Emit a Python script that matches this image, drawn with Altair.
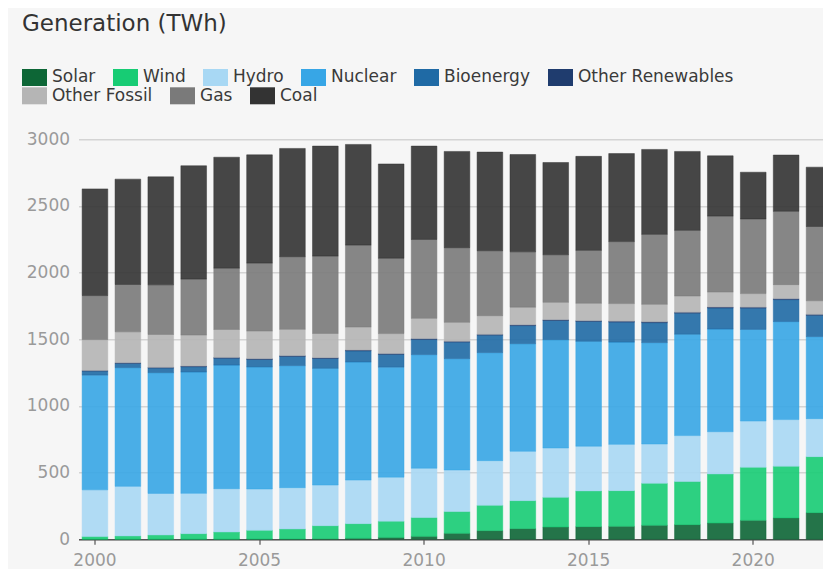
import altair as alt
import pandas as pd

years = list(range(2000, 2023))

sources = ["Solar", "Wind", "Hydro", "Nuclear", "Bioenergy", "Other Renewables",
           "Other Fossil", "Gas", "Coal"]
colors = ["#0d6636", "#17cc74", "#a8d8f4", "#37a6e6", "#1f6aa5", "#1f3c6e",
          "#b5b5b5", "#7a7a7a", "#333333"]

solar = [0.1, 0.2, 0.3, 0.5, 0.7, 1.5, 2.5, 4, 7.5, 14, 22, 45, 65, 80, 92, 95, 97, 105, 110, 122, 142, 160, 200]
wind = [21, 25, 32, 42, 54, 66, 75, 98, 110, 122, 141, 163, 190, 210, 223, 268, 268, 315, 323, 368, 398, 388, 420]
hydro = [350, 372, 312, 302, 325, 310, 310, 305, 327, 330, 370, 312, 335, 370, 370, 335, 347, 295, 345, 317, 347, 350, 285]
nuclear = [860, 890, 905, 910, 927, 915, 915, 875, 885, 825, 852, 835, 810, 807, 812, 787, 767, 760, 760, 770, 687, 735, 615]
bioenergy = [30, 32, 35, 40, 51, 56, 69, 74, 84, 96, 114, 124, 131, 136, 144, 149, 150, 150, 158, 158, 160, 165, 160]
other_renewables = [5, 5, 5, 5, 6, 6, 6, 6, 6, 6, 6, 6, 6, 6, 6, 6, 7, 7, 7, 7, 7, 7, 7]
other_fossil = [232, 232, 247, 232, 210, 207, 197, 182, 172, 150, 152, 142, 140, 132, 130, 130, 132, 130, 122, 112, 102, 105, 102]
gas = [330, 355, 372, 420, 460, 510, 545, 580, 615, 565, 592, 560, 487, 415, 357, 397, 465, 525, 492, 570, 560, 550, 557]
coal = [800, 790, 810, 850, 832, 812, 812, 825, 755, 707, 700, 722, 740, 730, 692, 705, 660, 637, 592, 452, 350, 422, 445]

series = [solar, wind, hydro, nuclear, bioenergy, other_renewables, other_fossil, gas, coal]

rows = []
for k, (name, vals) in enumerate(zip(sources, series)):
    for y, v in zip(years, vals):
        rows.append({"Year": y, "Source": name, "Value": v, "Order": k})
df = pd.DataFrame(rows)

label_color = "#9a9a9a"
font = "DejaVu Sans"
rect_path = "M-1,-0.68L1,-0.68L1,0.68L-1,0.68Z"

x_enc = alt.X("Year:O",
              scale=alt.Scale(range=[0, 757], paddingInner=0.22, paddingOuter=0.11),
              axis=alt.Axis(values=[2000, 2005, 2010, 2015, 2020], labelAngle=0, title=None,
                            domainColor="#555555", domainWidth=1.5, tickColor="#555555",
                            tickSize=5, tickWidth=1.2, labelColor=label_color, labelFontSize=17,
                            labelFont=font, labelPadding=8, grid=False))
y_enc = alt.Y("y1:Q",
              scale=alt.Scale(domain=[0, 3000], nice=False),
              axis=alt.Axis(values=[0, 500, 1000, 1500, 2000, 2500, 3000], title=None, format="d",
                            domain=False, ticks=False, labelColor=label_color, labelFontSize=17,
                            labelFont=font, labelPadding=9, gridColor="#d4d4d4", gridWidth=1.5))


def legend(values_x, values_y, ncol):
    return alt.Legend(orient="none", legendX=values_x, legendY=values_y,
                      direction="horizontal", columns=ncol, title=None,
                      symbolType=rect_path, symbolSize=625, symbolOpacity=1,
                      symbolStrokeWidth=0, labelFontSize=17, labelFont=font,
                      labelColor="#3a3a3a", labelOffset=5, columnPadding=17)


base = alt.Chart(df).transform_stack(
    stack="Value", groupby=["Year"], as_=["y0", "y1"],
    sort=[alt.SortField("Order", order="ascending")],
)

top_row = sources[:6]
bottom_row = sources[6:]


def layer(names, cols, lx, ly):
    return base.transform_filter(
        alt.FieldOneOfPredicate(field="Source", oneOf=names)
    ).mark_bar(fillOpacity=0.9, strokeWidth=0.8, strokeOpacity=0.6).encode(
        x=x_enc,
        y=y_enc,
        y2="y0:Q",
        color=alt.Color("Source:N", scale=alt.Scale(domain=names, range=cols),
                        legend=legend(lx, ly, len(names))),
        stroke=alt.Stroke("Source:N", scale=alt.Scale(domain=names, range=cols), legend=None),
    )


layer1 = layer(top_row, colors[:6], -56.5, -74.3)
layer2 = layer(bottom_row, colors[6:], -56.5, -56)

chart = alt.layer(layer1, layer2).resolve_scale(
    color="independent", stroke="independent"
).properties(
    width=744.5,
    height=400,
    title=alt.TitleParams("Generation (TWh)", anchor="start", frame="bounds", fontSize=23,
                          fontWeight="normal", color="#333333", font=font, offset=29),
    autosize=alt.AutoSizeParams(type="none"),
    padding={"left": 70.5, "top": 131.3, "right": 0, "bottom": 30},
    background="#f6f6f6",
).configure_view(stroke=None)

chart.save("out.html", embed_options={"renderer": "svg", "actions": False})
